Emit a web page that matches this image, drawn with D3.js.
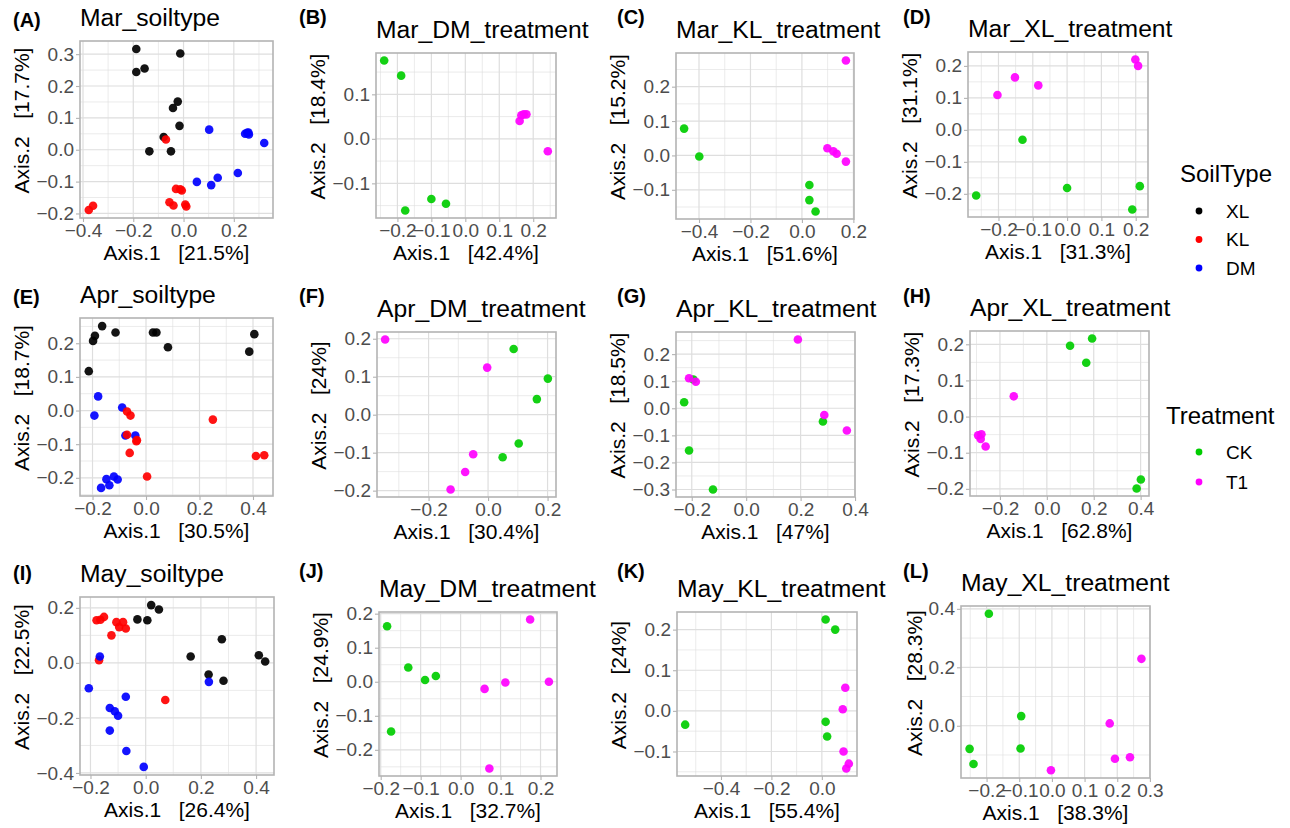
<!DOCTYPE html>
<html>
<head>
<meta charset="utf-8">
<style>
body { margin: 0; background: #fff; }
svg { font-family: "Liberation Sans", Arial, sans-serif; }
.tick text { fill: #4d4d4d; font-size: 19px; font-family: "Liberation Sans", Arial, sans-serif; }
.tick line { stroke: #b3b3b3; stroke-width: 1.1; }
.axis-title { fill: #000; font-size: 21px; white-space: pre; }
.plot-title { font-size: 24.7px; }
.tag { font-size: 20px; font-weight: bold; }
.legend-title { font-size: 24px; }
.legend-label { font-size: 19px; }
</style>
</head>
<body>
<svg id="chart" width="1290" height="828"></svg>
<script src="https://cdnjs.cloudflare.com/ajax/libs/d3/7.8.5/d3.min.js"></script>
<script>

// ---- data (Axis.1, Axis.2) ----
const marSoilXL = [[-0.188,0.316],[-0.013,0.302],[-0.188,0.244],[-0.155,0.255],[-0.023,0.151],[-0.042,0.131],[-0.016,0.075],[-0.079,0.040],[-0.136,-0.005],[-0.050,-0.005]];
const marSoilKL = [[-0.070,0.032],[-0.377,-0.189],[-0.360,-0.176],[-0.030,-0.123],[-0.013,-0.124],[-0.007,-0.128],[-0.056,-0.165],[-0.040,-0.175],[0.011,-0.178],[0.007,-0.172]];
const marSoilDM = [[0.102,0.063],[0.245,0.050],[0.253,0.053],[0.260,0.048],[0.258,0.054],[0.321,0.021],[0.053,-0.101],[0.110,-0.111],[0.136,-0.088],[0.216,-0.073]];

const marDM_CK = [[-0.239,0.176],[-0.189,0.142],[-0.100,-0.135],[-0.057,-0.146],[-0.177,-0.161]];
const marDM_T1 = [[0.160,0.040],[0.165,0.053],[0.180,0.055],[0.172,0.055],[0.243,-0.028]];
const marKL_CK = [[-0.458,0.078],[-0.399,-0.003],[0.029,-0.086],[0.029,-0.130],[0.053,-0.163]];
const marKL_T1 = [[0.171,0.276],[0.099,0.021],[0.122,0.012],[0.135,0.005],[0.171,-0.018]];
const marXL_CK = [[-0.130,-0.031],[-0.265,-0.205],[0.000,-0.182],[0.212,-0.176],[0.190,-0.249]];
const marXL_T1 = [[-0.203,0.109],[-0.152,0.164],[-0.084,0.139],[0.199,0.220],[0.207,0.200]];

const aprSoilXL = [[-0.164,0.251],[-0.191,0.222],[-0.198,0.207],[-0.114,0.232],[0.026,0.232],[0.039,0.232],[0.082,0.188],[-0.214,0.117],[0.405,0.227],[0.386,0.175]];
const aprSoilDM = [[-0.179,0.042],[-0.193,-0.015],[-0.089,0.009],[-0.077,-0.074],[-0.040,-0.074],[-0.168,-0.230],[-0.148,-0.204],[-0.137,-0.222],[-0.120,-0.196],[-0.106,-0.205]];
const aprSoilKL = [[-0.071,-0.003],[-0.058,-0.015],[-0.071,-0.072],[-0.036,-0.091],[-0.034,-0.088],[-0.061,-0.126],[0.004,-0.196],[0.250,-0.027],[0.411,-0.135],[0.442,-0.133]];

const aprDM_CK = [[0.086,0.173],[0.201,0.095],[0.164,0.041],[0.103,-0.076],[0.049,-0.112]];
const aprDM_T1 = [[-0.346,0.198],[-0.003,0.124],[-0.050,-0.104],[-0.077,-0.151],[-0.126,-0.197]];
const aprKL_CK = [[-0.194,0.106],[-0.228,0.022],[-0.210,-0.156],[-0.122,-0.300],[0.282,-0.049]];
const aprKL_T1 = [[0.190,0.254],[-0.210,0.111],[-0.185,0.098],[0.287,-0.025],[0.370,-0.082]];
const aprXL_CK = [[0.099,0.196],[0.193,0.216],[0.168,0.149],[0.401,-0.174],[0.383,-0.199]];
const aprXL_T1 = [[-0.141,0.056],[-0.293,-0.052],[-0.279,-0.049],[-0.282,-0.062],[-0.261,-0.083]];

const maySoilXL = [[0.020,0.210],[0.048,0.194],[-0.030,0.158],[0.006,0.155],[0.163,0.023],[0.276,0.086],[0.228,-0.042],[0.282,-0.065],[0.410,0.028],[0.433,0.005]];
const maySoilKL = [[-0.178,0.155],[-0.164,0.157],[-0.151,0.167],[-0.106,0.148],[-0.082,0.148],[-0.096,0.130],[-0.072,0.125],[-0.124,0.100],[-0.169,0.010],[0.071,-0.135]];
const maySoilDM = [[-0.166,0.023],[-0.206,-0.092],[-0.072,-0.123],[-0.130,-0.164],[-0.112,-0.176],[-0.100,-0.192],[-0.130,-0.246],[-0.070,-0.320],[-0.007,-0.378],[0.229,-0.069]];

const mayDM_CK = [[-0.184,0.163],[-0.131,0.042],[-0.089,0.005],[-0.062,0.017],[-0.174,-0.146]];
const mayDM_T1 = [[0.174,0.183],[0.060,-0.021],[0.112,-0.002],[0.221,0.000],[0.072,-0.255]];
const mayKL_CK = [[0.015,0.225],[0.053,0.200],[-0.542,-0.034],[0.015,-0.027],[0.021,-0.063]];
const mayKL_T1 = [[0.093,0.057],[0.083,0.004],[0.086,-0.100],[0.107,-0.130],[0.097,-0.142]];
const mayXL_CK = [[-0.193,0.383],[-0.094,0.033],[-0.096,-0.078],[-0.252,-0.079],[-0.240,-0.131]];
const mayXL_T1 = [[0.274,0.229],[0.177,0.008],[0.193,-0.113],[0.239,-0.108],[-0.003,-0.152]];

const panelTags   = ["(A)","(B)","(C)","(D)","(E)","(F)","(G)","(H)","(I)","(J)","(K)","(L)"];
const panelTitles = ["Mar_soiltype","Mar_DM_treatment","Mar_KL_treatment","Mar_XL_treatment",
                     "Apr_soiltype","Apr_DM_treatment","Apr_KL_treatment","Apr_XL_treatment",
                     "May_soiltype","May_DM_treatment","May_KL_treatment","May_XL_treatment"];
const axis1Pct = ["21.5%","42.4%","51.6%","31.3%","30.5%","30.4%","47%","62.8%","26.4%","32.7%","55.4%","38.3%"];
const axis2Pct = ["17.7%","18.4%","15.2%","31.1%","18.7%","24%","18.5%","17.3%","22.5%","24.9%","24%","28.3%"];

const xTicks = [[-0.4,-0.2,0,0.2],[-0.2,-0.1,0,0.1,0.2],[-0.4,-0.2,0,0.2],[-0.2,-0.1,0,0.1,0.2],
                [-0.2,0,0.2,0.4],[-0.2,0,0.2],[-0.2,0,0.2,0.4],[-0.2,0,0.2,0.4],
                [-0.2,0,0.2,0.4],[-0.2,-0.1,0,0.1,0.2],[-0.4,-0.2,0],[-0.2,-0.1,0,0.1,0.2,0.3]];
const yTicks = [[-0.2,-0.1,0,0.1,0.2,0.3],[-0.1,0,0.1],[-0.1,0,0.1,0.2],[-0.2,-0.1,0,0.1,0.2],
                [-0.2,-0.1,0,0.1,0.2],[-0.2,-0.1,0,0.1,0.2],[-0.3,-0.2,-0.1,0,0.1,0.2],[-0.2,-0.1,0,0.1,0.2],
                [-0.4,-0.2,0,0.2],[-0.2,-0.1,0,0.1,0.2],[-0.1,0,0.1,0.2],[0,0.2,0.4]];

const soilTypes = ["XL","KL","DM"];
const treatments = ["CK","T1"];
const soilColor = d3.scaleOrdinal(soilTypes, ["#000000","#ff0000","#0000ff"]);
const treatColor = d3.scaleOrdinal(treatments, ["#00cd00","#ff00ff"]);

// groups per panel, in drawing order
const panelGroups = [
  [["XL",marSoilXL],["DM",marSoilDM],["KL",marSoilKL]],
  [["CK",marDM_CK],["T1",marDM_T1]],
  [["CK",marKL_CK],["T1",marKL_T1]],
  [["CK",marXL_CK],["T1",marXL_T1]],
  [["XL",aprSoilXL],["DM",aprSoilDM],["KL",aprSoilKL]],
  [["CK",aprDM_CK],["T1",aprDM_T1]],
  [["CK",aprKL_CK],["T1",aprKL_T1]],
  [["CK",aprXL_CK],["T1",aprXL_T1]],
  [["XL",maySoilXL],["KL",maySoilKL],["DM",maySoilDM]],
  [["CK",mayDM_CK],["T1",mayDM_T1]],
  [["CK",mayKL_CK],["T1",mayKL_T1]],
  [["CK",mayXL_CK],["T1",mayXL_T1]]
];

// panel boxes [left, top, right, bottom] and tag positions
const boxes = [
  [80,41,273,218],[376,53,556,218],[676,53,854,219],[968,52,1148,217],
  [80,318,273,496],[377,332,556,497],[676,332,855,497],[970,331,1149,496],
  [80,597,274,775],[379,612,557,776],[677,612,857,776],[961,606,1150,778]
];
const tagX = [13,299,617,903];
const tagY = [[27,24,24,24],[304,303,303,303],[580,578,578,578]];

const svg = d3.select("#chart");
const fmt = d3.format(".1f");

function expand(vals) {
  const e = d3.extent(vals), pad = (e[1] - e[0]) * 0.05;
  return [e[0] - pad, e[1] + pad];
}
function minorBreaks(ticks, dom) {
  const step = ticks[1] - ticks[0], out = [];
  const all = [ticks[0] - step].concat(ticks, [ticks[ticks.length-1] + step]);
  for (let i = 0; i < all.length - 1; i++) {
    const m = (all[i] + all[i+1]) / 2;
    if (m > dom[0] && m < dom[1]) out.push(m);
  }
  return out;
}

panelGroups.forEach((groups, i) => {
  const [l, t, r, b] = boxes[i];
  const pts = groups.flatMap(g => g[1]);
  const xDom = expand(pts.map(d => d[0])), yDom = expand(pts.map(d => d[1]));
  const x = d3.scaleLinear().domain(xDom).range([l, r]);
  const y = d3.scaleLinear().domain(yDom).range([b, t]);
  const color = groups.length === 3 ? soilColor : treatColor;
  const g = svg.append("g");

  // grid
  const xt = xTicks[i], yt = yTicks[i];
  g.selectAll(".vminor").data(minorBreaks(xt, xDom)).join("line")
    .attr("x1", d => x(d)).attr("x2", d => x(d)).attr("y1", t).attr("y2", b)
    .attr("stroke", "#dedede").attr("stroke-width", 0.6);
  g.selectAll(".hminor").data(minorBreaks(yt, yDom)).join("line")
    .attr("y1", d => y(d)).attr("y2", d => y(d)).attr("x1", l).attr("x2", r)
    .attr("stroke", "#dedede").attr("stroke-width", 0.6);
  g.selectAll(".vmajor").data(xt).join("line")
    .attr("x1", d => x(d)).attr("x2", d => x(d)).attr("y1", t).attr("y2", b)
    .attr("stroke", "#dedede").attr("stroke-width", 1.2);
  g.selectAll(".hmajor").data(yt).join("line")
    .attr("y1", d => y(d)).attr("y2", d => y(d)).attr("x1", l).attr("x2", r)
    .attr("stroke", "#dedede").attr("stroke-width", 1.2);

  // points
  groups.forEach(([key, data]) => {
    g.append("g").selectAll("circle").data(data).join("circle")
      .attr("cx", d => x(d[0])).attr("cy", d => y(d[1]))
      .attr("r", 4.3).attr("fill", color(key)).attr("fill-opacity", 0.92);
  });

  // border
  g.append("rect").attr("x", l).attr("y", t).attr("width", r - l).attr("height", b - t)
    .attr("fill", "none").attr("stroke", "#b3b3b3").attr("stroke-width", 1.6);

  // axes
  const xa = g.append("g").attr("transform", `translate(0,${b})`)
    .call(d3.axisBottom(x).tickValues(xt).tickFormat(fmt).tickSize(4).tickPadding(2));
  const ya = g.append("g").attr("transform", `translate(${l},0)`)
    .call(d3.axisLeft(y).tickValues(yt).tickFormat(fmt).tickSize(4).tickPadding(2));
  [xa, ya].forEach(a => { a.select(".domain").remove(); a.attr("font-size", null).attr("font-family", null); });

  g.append("text").attr("class", "axis-title")
    .attr("x", (l + r) / 2).attr("y", b + 42).attr("text-anchor", "middle")
    .text(`Axis.1   [${axis1Pct[i]}]`);
  const yb = ya.node().getBBox();
  g.append("text").attr("class", "axis-title")
    .attr("transform", `translate(${l + yb.x - 7},${(t + b) / 2 - 9}) rotate(-90)`)
    .attr("text-anchor", "middle")
    .text(`Axis.2   [${axis2Pct[i]}]`);

  g.append("text").attr("class", "plot-title").attr("x", l).attr("y", t - 15).text(panelTitles[i]);
  g.append("text").attr("class", "tag")
    .attr("x", tagX[i % 4]).attr("y", tagY[Math.floor(i / 4)][i % 4]).text(panelTags[i]);
});

// legends
function legend(title, keys, color, tx, ty, y0, step) {
  const lg = svg.append("g");
  lg.append("text").attr("class", "legend-title").attr("x", tx).attr("y", ty).text(title);
  const it = lg.selectAll("g").data(keys).join("g")
    .attr("transform", (d, k) => `translate(0,${y0 + k * step})`);
  it.append("circle").attr("cx", 1199).attr("r", 3.4).attr("fill", d => color(d));
  it.append("text").attr("class", "legend-label").attr("x", 1226).attr("dy", "0.35em").text(d => d);
}
legend("SoilType", soilTypes, soilColor, 1180, 182, 211, 28.5);
legend("Treatment", treatments, treatColor, 1166, 424, 452, 30);

</script>
</body>
</html>
